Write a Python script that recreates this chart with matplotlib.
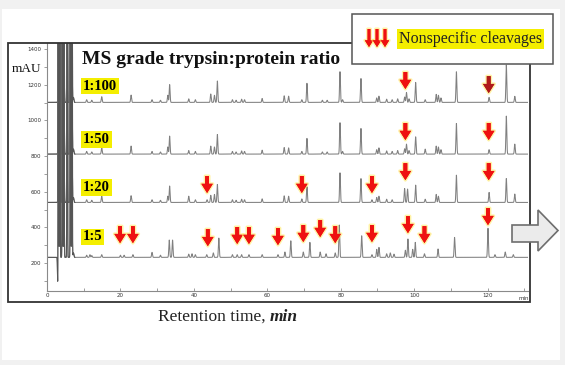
import numpy as np
import matplotlib
matplotlib.use("Agg")
import matplotlib.pyplot as plt
from matplotlib.patches import Rectangle, Polygon, FancyArrowPatch
import matplotlib.patheffects as pe

# ---------------- data ----------------
ratio_labels = ["1:100", "1:50", "1:20", "1:5"]
baselines = [1101, 811, 540, 232]

# retention time (min) / peak height above baseline (mAU)
times_100 = [7.2, 10.8, 12.2, 14.9, 22.9, 28.6, 30.9, 32.9, 33.4, 38.6, 40.4, 44.6, 45.6, 46.4,
             50.5, 51.5, 53.0, 53.8, 58.6, 64.6, 65.8, 69.4, 70.8, 75.0, 76.3, 79.8, 80.5,
             85.5, 89.8, 90.4, 92.5, 94.0, 95.5, 97.4, 97.9, 98.6, 100.4, 103.0, 106.0, 106.6,
             107.3, 111.5, 120.4, 125.1, 127.4]
heights_100 = [28, 15, 12, 32, 41, 15, 12, 40, 100, 20, 15, 47, 40, 120,
               15, 12, 18, 15, 22, 37, 35, 15, 107, 12, 12, 172, 15,
               134, 25, 35, 18, 15, 20, 30, 56, 20, 112, 15, 45, 40,
               25, 172, 28, 210, 34]

times_50 = times_100
heights_50 = [28, 15, 12, 35, 45, 15, 12, 40, 101, 20, 15, 45, 40, 110,
              15, 12, 18, 15, 22, 37, 35, 15, 88, 12, 12, 176, 15,
              144, 25, 35, 18, 15, 20, 30, 56, 20, 97, 28, 45, 40,
              25, 172, 25, 213, 56]

times_20 = [7.2, 10.8, 12.2, 14.9, 22.9, 28.6, 30.9, 32.9, 33.4, 38.6, 40.4, 43.6, 44.6, 45.6,
            46.4, 50.5, 51.5, 53.0, 53.8, 58.6, 64.6, 65.8, 69.4, 70.8, 79.8, 85.5, 88.5,
            89.8, 90.4, 92.5, 94.0, 97.4, 98.2, 100.4, 103.0, 106.0, 106.6, 111.5, 120.4,
            125.1, 127.4]
heights_20 = [28, 15, 12, 35, 38, 15, 12, 35, 92, 35, 15, 15, 40, 45,
              101, 15, 12, 18, 15, 20, 37, 35, 20, 88, 166, 134, 15,
              28, 35, 18, 15, 78, 75, 97, 18, 45, 35, 153, 56,
              134, 47]

times_5 = [7.2, 10.8, 11.7, 12.2, 14.9, 20.0, 21.0, 23.4, 28.6, 30.9, 33.3, 34.2, 38.6, 39.5,
           40.4, 43.5, 45.3, 46.8, 50.5, 51.8, 53.0, 55.0, 58.6, 62.9, 64.8, 66.4, 69.8,
           71.6, 74.4, 76.0, 78.5, 79.6, 85.7, 88.5, 89.8, 90.4, 92.5, 93.5, 94.5, 97.6,
           98.3, 99.6, 100.3, 102.8, 106.5, 111.0, 120.1, 122.0, 124.8, 127.0]
heights_5 = [25, 12, 15, 10, 15, 12, 12, 15, 28, 12, 97, 97, 18, 20,
             15, 15, 25, 108, 15, 15, 15, 15, 15, 15, 30, 93, 30,
             84, 30, 20, 25, 181, 121, 15, 45, 56, 20, 25, 18, 40,
             103, 45, 84, 20, 47, 112, 163, 15, 30, 15]

all_times = [times_100, times_50, times_20, times_5]
all_heights = [heights_100, heights_50, heights_20, heights_5]

# solvent front (off scale)
solvent_times = [3.1, 3.5, 4.2, 4.6, 5.5, 6.4, 6.8]
solvent_heights = [1800, 1800, 1800, 1800, 1800, 1800, 1800]

# nonspecific cleavage arrows: time (min), arrow tip (mAU)
arrow_times_100 = [97.6, 120.3]
arrow_tips_100 = [1176, 1153]
arrow_times_50 = [97.6, 120.3]
arrow_tips_50 = [890, 890]
arrow_times_20 = [43.6, 69.4, 88.5, 97.6, 120.3]
arrow_tips_20 = [593, 593, 593, 665, 665]
arrow_times_5 = [19.9, 23.4, 43.8, 51.8, 55.0, 62.9, 69.8, 74.4, 78.5, 88.5, 98.3, 102.8, 120.1]
arrow_tips_5 = [312, 312, 295, 307, 307, 301, 318, 346, 312, 318, 368, 312, 413]

x_ticks = [0, 20, 40, 60, 80, 100, 120]
y_ticks = [200, 400, 600, 800, 1000, 1200, 1400]

W, H = 565, 365


def fx(px):
    return px / W


def fy(py):
    return 1 - py / H


fig = plt.figure(figsize=(W / 100, H / 100), dpi=100, facecolor="#f1f1f1")
fig.add_artist(Rectangle((fx(2), fy(360)), fx(558), 351 / H, transform=fig.transFigure,
                         fc="white", ec="none", zorder=0))

ax = fig.add_axes([fx(47), fy(290.7), fx(528) - fx(47), fy(43) - fy(290.7)])
ax.set_facecolor("none")

t = np.linspace(0, 131, 9000)


def trace(base, times, heights, width=0.12):
    y = np.full_like(t, float(base))
    for c, h in zip(times, heights):
        y += h * np.exp(-0.5 * ((t - c) / width) ** 2)
    for c, h in zip(solvent_times, solvent_heights):
        y += h * np.exp(-0.5 * ((t - c) / 0.07) ** 2)
    return y


front = t < 7.6
for i in range(4):
    y = trace(baselines[i], all_times[i], all_heights[i])
    if i == 3:
        y -= 200 * np.exp(-0.5 * ((t - 2.95) / 0.08) ** 2)
    ax.plot(t, y, color="#808080", lw=0.75)
    ax.plot(t[front], y[front], color="#555555", lw=0.75)

ax.set_xlim(0, 131)
ax.set_ylim(45, 1434)
for s in ["top", "right"]:
    ax.spines[s].set_visible(False)
for s in ["left", "bottom"]:
    ax.spines[s].set_color("#8a8a8a")
    ax.spines[s].set_linewidth(0.8)
ax.set_xticks(x_ticks)
ax.set_xticks(np.arange(10, 131, 20), minor=True)
ax.set_yticks(y_ticks)
ax.set_yticks(np.arange(100, 1401, 200), minor=True)
ax.tick_params(axis="x", which="both", direction="in", length=2, width=0.5,
               colors="#777", labelsize=4, labelcolor="#333", pad=2)
ax.tick_params(axis="y", which="both", direction="out", length=2, width=0.5,
               colors="#777", labelsize=4, labelcolor="#333", pad=2)
ax.text(129.8, -0.022, "min", transform=ax.get_xaxis_transform(), fontsize=4,
        color="#333", ha="center", va="top")

# outer frame
fig.add_artist(Rectangle((fx(8), fy(302)), fx(530) - fx(8), fy(43) - fy(302),
                         transform=fig.transFigure, fill=False, ec="#333", lw=1.3, zorder=5))

glow = [pe.withStroke(linewidth=2.2, foreground="#ffe95c", alpha=0.55)]
arrow_style = "simple,head_length=0.6,head_width=0.75,tail_width=0.25"


def red_arrow(xt, tip, color="#ee1111"):
    a = FancyArrowPatch((xt, tip + 95), (xt, tip), arrowstyle=arrow_style, mutation_scale=11,
                        fc=color, ec="none", shrinkA=0, shrinkB=0, zorder=6, clip_on=False)
    a.set_path_effects(glow + [pe.Normal()])
    ax.add_patch(a)


for xt, tip in zip(arrow_times_100, arrow_tips_100):
    red_arrow(xt, tip, "#b01a1a" if xt > 110 else "#ee1111")
for xt, tip in zip(arrow_times_50 + arrow_times_20 + arrow_times_5,
                   arrow_tips_50 + arrow_tips_20 + arrow_tips_5):
    red_arrow(xt, tip)

serif = "Liberation Serif"
yellow = dict(boxstyle="square,pad=0.12", fc="#f4ee00", ec="none")
label_y = [86, 139.5, 187.5, 237]
for lab, py in zip(ratio_labels, label_y):
    fig.text(fx(83), fy(py), lab, family=serif, weight="bold", fontsize=10.5,
             va="center", ha="left", bbox=yellow, zorder=7)

fig.text(fx(82), fy(59), "MS grade trypsin:protein ratio", family=serif, weight="bold",
         fontsize=14, va="center", ha="left", color="#111", zorder=7)
fig.text(fx(27), fy(69), "mAU", family=serif, fontsize=9.5, va="center", ha="center",
         color="#111")
fig.text(fx(270), fy(317), "Retention time, ", family=serif, fontsize=12.5,
         va="center", ha="right", color="#222")
fig.text(fx(270), fy(317), "min", family=serif, fontsize=12.5, style="italic",
         weight="bold", va="center", ha="left", color="#222")

# legend box
fig.add_artist(Rectangle((fx(352), fy(64)), fx(553) - fx(352), fy(14) - fy(64),
                         transform=fig.transFigure, fc="white", ec="#555", lw=1.1, zorder=8))
for px in [369, 377, 385]:
    a = FancyArrowPatch((fx(px), fy(29)), (fx(px), fy(47)), transform=fig.transFigure,
                        arrowstyle=arrow_style, mutation_scale=8, fc="#ee1111", ec="none",
                        shrinkA=0, shrinkB=0, zorder=9)
    a.set_path_effects(glow + [pe.Normal()])
    fig.add_artist(a)
fig.text(fx(399), fy(39), "Nonspecific cleavages", family=serif, fontsize=11.5,
         va="center", ha="left", bbox=yellow, zorder=9, color="#222")

# gray block arrow on the right
arrow_pts = [(512, 225), (538, 225), (538, 210), (558, 230.5), (538, 251), (538, 242), (512, 242)]
fig.add_artist(Polygon([(fx(a), fy(b)) for a, b in arrow_pts], closed=True,
                       transform=fig.transFigure, fc="#ebebeb", ec="#6e6e6e", lw=1.2, zorder=9))

fig.savefig("out.png", dpi=100, facecolor=fig.get_facecolor())
